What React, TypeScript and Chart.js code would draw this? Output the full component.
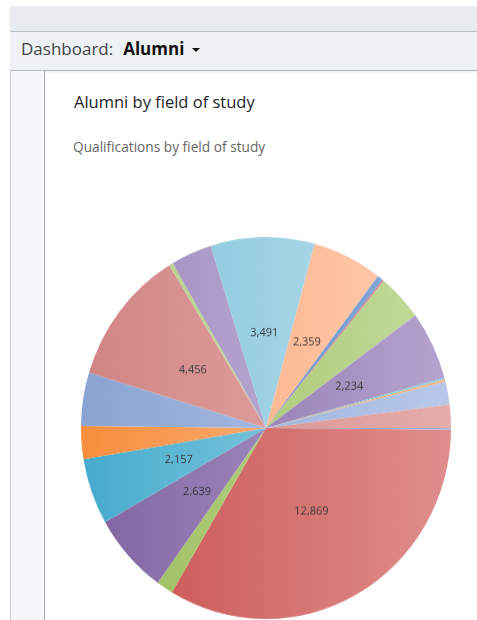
import React, { useEffect, useRef } from "react";
import { Chart, registerables } from "chart.js";

Chart.register(...registerables);

// ---- data ----
const fields = [
  "Field 1", "Field 2", "Field 3", "Field 4", "Field 5",
  "Field 6", "Field 7", "Field 8", "Field 9", "Field 10",
  "Field 11", "Field 12", "Field 13", "Field 14", "Field 15",
  "Field 16", "Field 17", "Field 18", "Field 19", "Field 20",
];
const qualifications = [
  55, 12869, 560, 2639, 2157,
  1080, 1740, 4456, 130, 1390,
  3491, 2359, 200, 50, 1530,
  2234, 65, 65, 750, 760,
];
const LABEL_MIN = 2000;

const headerLabel = "Dashboard:";
const dashboardName = "Alumni";
const chartTitle = "Alumni by field of study";
const chartSubtitle = "Qualifications by field of study";

// ---- styles (gradient left -> right for each slice) ----
const palette: [string, string][] = [
  ["#4F81BD", "#9DB8E0"],
  ["#C84F4C", "#DF8F8E"],
  ["#9BBB59", "#C4DC9E"],
  ["#8064A2", "#B6A5CF"],
  ["#46ABCD", "#A2D8E8"],
  ["#F88E3E", "#FCC49A"],
  ["#8AA4D3", "#BCCBEA"],
  ["#D08584", "#E8B2B1"],
  ["#B2CC82", "#D2E4B6"],
  ["#9C88BC", "#CCC2E0"],
  ["#7EC2DA", "#BCE0EC"],
  ["#FBA274", "#FFD0B4"],
  ["#4F81BD", "#8EAEDD"],
  ["#C0504D", "#DE9190"],
  ["#9BBB59", "#C4DC9E"],
  ["#8064A2", "#B6A5CF"],
  ["#4BACC6", "#8ED2E4"],
  ["#F79646", "#FBB57C"],
  ["#8AA4D3", "#B8C8E9"],
  ["#D08584", "#E6ACAC"],
];

const FONT = '"Open Sans", "Noto Sans", sans-serif';

const labelPlugin = {
  id: "sliceLabels",
  afterDatasetsDraw(chart: any) {
    const { ctx } = chart;
    const meta = chart.getDatasetMeta(0);
    ctx.save();
    ctx.font = `11px ${FONT}`;
    ctx.fillStyle = "#3a3a3a";
    ctx.textAlign = "center";
    ctx.textBaseline = "middle";
    meta.data.forEach((arc: any, i: number) => {
      const v = qualifications[i];
      if (v < LABEL_MIN) return;
      const p = arc.tooltipPosition(true);
      ctx.fillText(v.toLocaleString("en-US"), p.x, p.y);
    });
    ctx.restore();
  },
};

export default function App() {
  const canvasRef = useRef<HTMLCanvasElement | null>(null);

  useEffect(() => {
    document.body.style.margin = "0";
    const canvas = canvasRef.current;
    if (!canvas) return;
    const gradCache: Record<number, CanvasGradient> = {};
    const chart = new Chart(canvas, {
      type: "pie",
      data: {
        labels: fields,
        datasets: [
          {
            data: qualifications,
            radius: 185,
            borderWidth: 0,
            hoverOffset: 0,
            backgroundColor: (c: any) => {
              const ch = c.chart;
              const area = ch.chartArea;
              const i = c.dataIndex;
              const pair = palette[i % palette.length];
              if (!area) return pair[0];
              if (!gradCache[i]) {
                const g = ch.ctx.createLinearGradient(area.left, 0, area.right, 0);
                g.addColorStop(0, pair[0]);
                g.addColorStop(1, pair[1]);
                gradCache[i] = g;
              }
              return gradCache[i];
            },
          } as any,
        ],
      },
      options: {
        animation: false,
        responsive: false,
        rotation: 90,
        layout: { padding: 0 },
        events: [],
        plugins: {
          legend: { display: false },
          tooltip: { enabled: false },
          title: { display: false },
        },
      },
      plugins: [labelPlugin],
    });
    return () => chart.destroy();
  }, []);

  return (
    <div
      style={{
        position: "fixed",
        left: 0,
        top: 0,
        width: 477,
        height: 620,
        background: "#ffffff",
        overflow: "hidden",
        fontFamily: FONT,
      }}
    >
      {/* top bar */}
      <div style={{ position: "absolute", left: 10, top: 6, right: 0, height: 25, background: "#E8EBEF" }} />
      <div style={{ position: "absolute", left: 10, top: 31, right: 0, height: 1, background: "#B4BDC6" }} />
      {/* header */}
      <div style={{ position: "absolute", left: 10, top: 32, right: 0, height: 38, background: "#EEF1F5" }} />
      <div style={{ position: "absolute", left: 10, top: 70, right: 0, height: 1, background: "#B4BDC6" }} />
      <div style={{ position: "absolute", left: 10, top: 71, right: 0, height: 3, background: "linear-gradient(#EEF0F3, #ffffff)" }} />
      <div
        style={{
          position: "absolute",
          left: 21,
          top: 39,
          height: 20,
          lineHeight: "20px",
          fontSize: 17,
          color: "#444",
          whiteSpace: "nowrap",
        }}
      >
        {headerLabel}
        <span style={{ fontWeight: 700, color: "#111", marginLeft: 10 }}>{dashboardName}</span>
        <span style={{ display: "inline-block", marginLeft: 8, verticalAlign: "middle", width: 0, height: 0, borderLeft: "4px solid transparent", borderRight: "4px solid transparent", borderTop: "4px solid #111" }} />
      </div>
      {/* left panel */}
      <div
        style={{
          position: "absolute",
          left: 10,
          top: 71,
          width: 33,
          bottom: 0,
          background: "#F6F7F9",
          borderLeft: "1px solid #C5CBD1",
          borderRight: "1px solid #A8AFB7",
        }}
      />
      {/* titles */}
      <div
        style={{
          position: "absolute",
          left: 74,
          top: 92,
          lineHeight: "20px",
          fontSize: 16.5,
          color: "#1e1e1e",
          whiteSpace: "nowrap",
        }}
      >
        {chartTitle}
      </div>
      <div
        style={{
          position: "absolute",
          left: 73,
          top: 138,
          lineHeight: "18px",
          fontSize: 13.7,
          color: "#666",
          whiteSpace: "nowrap",
        }}
      >
        {chartSubtitle}
      </div>
      {/* pie */}
      <div
        style={{
          position: "absolute",
          left: 81,
          top: 243,
          width: 370,
          height: 370,
          transform: "scaleY(1.032)",
          transformOrigin: "50% 50%",
        }}
      >
        <canvas ref={canvasRef} width={370} height={370} style={{ display: "block", width: 370, height: 370 }} />
      </div>
    </div>
  );
}
